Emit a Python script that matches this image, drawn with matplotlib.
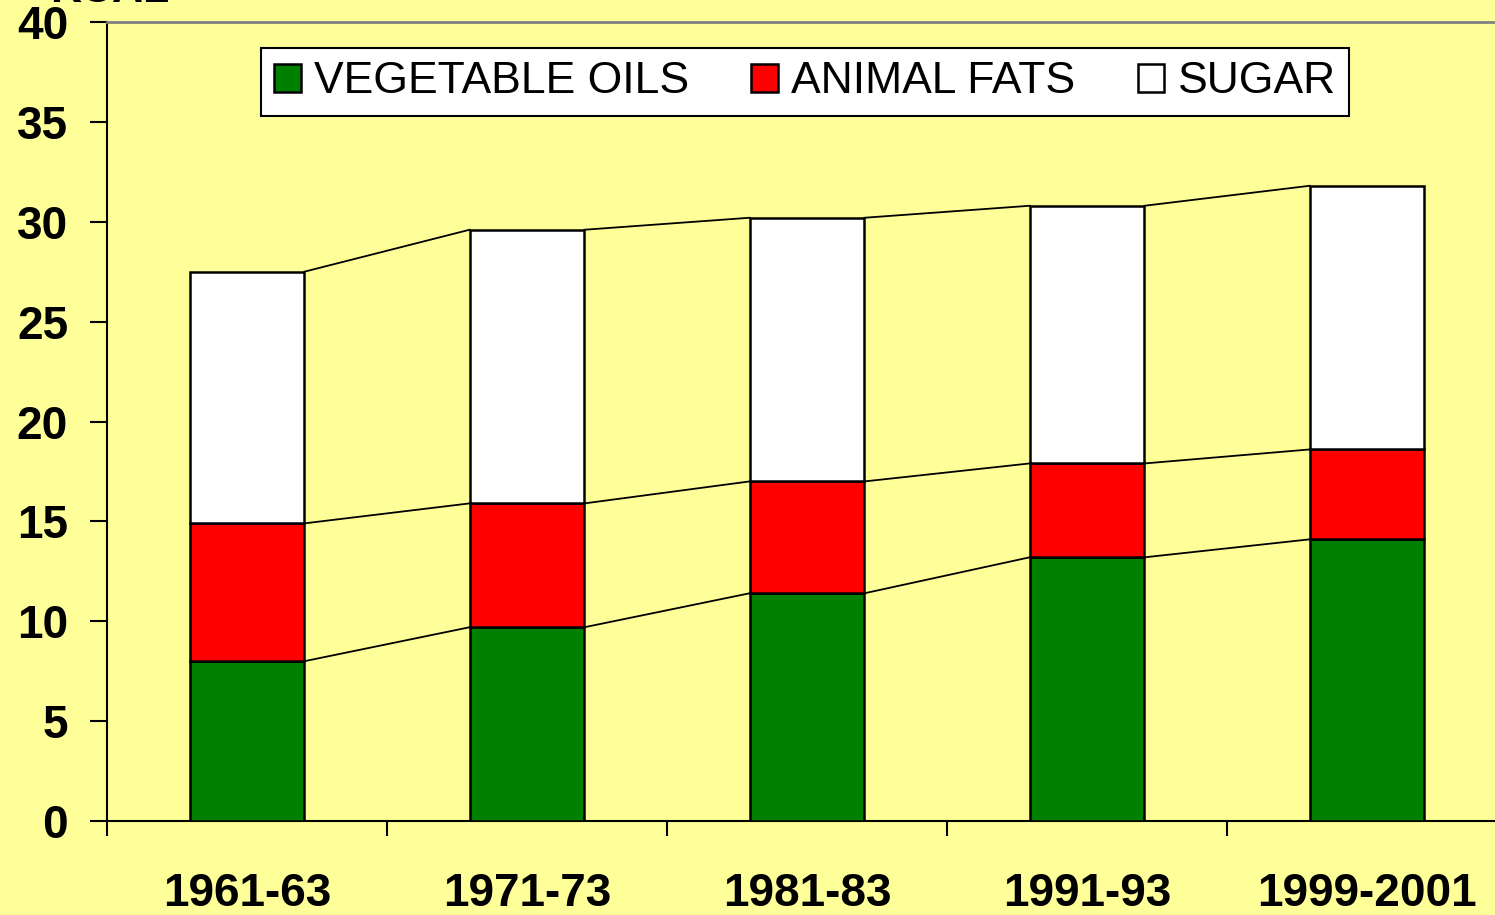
import numpy as np
import matplotlib
matplotlib.use("Agg")
import matplotlib.pyplot as plt

# data (kcal)
periods = ["1961-63", "1971-73", "1981-83", "1991-93", "1999-2001"]
veg_oils = [8.0, 9.7, 11.4, 13.2, 14.1]
animal_fats = [6.9, 6.2, 5.6, 4.7, 4.5]
sugar = [12.6, 13.7, 13.2, 12.9, 13.2]

plt.rcParams['font.family'] = ['Liberation Sans', 'DejaVu Sans']

bg = '#FFFF99'
fig = plt.figure(figsize=(14.95, 9.15), dpi=100, facecolor=bg)
ax = fig.add_axes([107/1495, 1 - 821/915, 1400/1495, (821 - 22)/915])
ax.set_facecolor(bg)

x = np.arange(len(periods))
w = 0.41
veg = np.array(veg_oils)
fat = np.array(animal_fats)
sug = np.array(sugar)

ax.bar(x, veg, w, color='#008000', edgecolor='black', linewidth=1.8,
       label='VEGETABLE OILS', zorder=3)
ax.bar(x, fat, w, bottom=veg, color='#FF0000', edgecolor='black',
       linewidth=1.8, label='ANIMAL FATS', zorder=3)
ax.bar(x, sug, w, bottom=veg + fat, color='white', edgecolor='black',
       linewidth=1.8, label='SUGAR', zorder=3)

# series lines joining the bars
for level in [veg, veg + fat, veg + fat + sug]:
    for i in range(len(x) - 1):
        ax.plot([x[i] + w / 2, x[i + 1] - w / 2], [level[i], level[i + 1]],
                color='black', linewidth=1.3, zorder=2)

ax.set_xlim(-0.5, len(periods) - 0.5)
ax.set_ylim(0, 40)
ax.set_yticks(np.arange(0, 41, 5))
ax.set_xticks(x)
ax.set_xticklabels(periods, fontsize=33, fontweight='bold')
ax.set_xticks(np.arange(-0.5, len(periods), 1), minor=True)
ax.tick_params(axis='x', which='major', length=0, pad=37)
ax.tick_params(axis='x', which='minor', length=11, width=1.5, direction='out')
ax.tick_params(axis='y', length=12, width=1.5, direction='out', pad=16,
               labelsize=33)
for lab in ax.get_yticklabels():
    lab.set_fontweight('bold')

ax.spines['right'].set_visible(False)
ax.spines['top'].set_color('#808080')
ax.spines['top'].set_linewidth(2)
ax.spines['left'].set_linewidth(1.5)
ax.spines['bottom'].set_linewidth(1.5)

fig.text(110/1495, 1 - 2/915, 'KCAL', fontsize=31, fontweight='bold',
         ha='center', va='baseline')

leg = fig.legend(loc='upper center', bbox_to_anchor=(805/1495, 1 - 48/915),
                 ncol=3, fontsize=32, frameon=True, fancybox=False,
                 edgecolor='black', facecolor='white', framealpha=1,
                 handlelength=0.6, handleheight=0.6, handletextpad=0.3,
                 columnspacing=1.4, borderpad=0.3, borderaxespad=0)
leg.get_frame().set_linewidth(1.5)

fig.savefig('out.png', dpi=100, facecolor=bg)
